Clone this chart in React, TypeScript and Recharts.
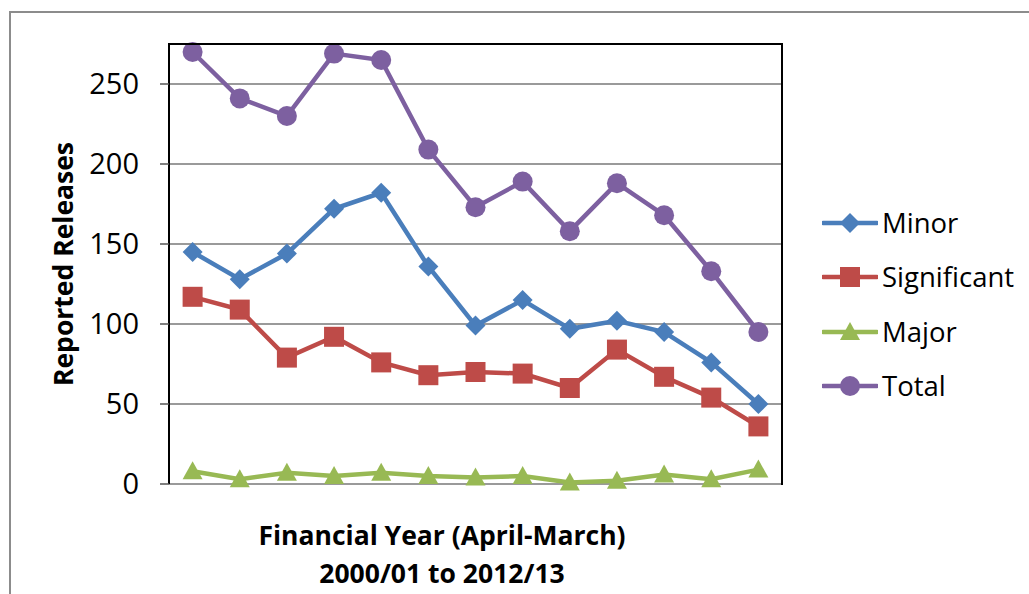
import React from 'react';
import { LineChart, Line, XAxis, YAxis, CartesianGrid, Label } from 'recharts';

const years = [
  '2000/01', '2001/02', '2002/03', '2003/04', '2004/05', '2005/06', '2006/07',
  '2007/08', '2008/09', '2009/10', '2010/11', '2011/12', '2012/13',
];
const minor = [145, 128, 144, 172, 182, 136, 99, 115, 97, 102, 95, 76, 50];
const significant = [117, 109, 79, 92, 76, 68, 70, 69, 60, 84, 67, 54, 36];
const major = [8, 3, 7, 5, 7, 5, 4, 5, 1, 2, 6, 3, 9];
const total = [270, 241, 230, 269, 265, 209, 173, 189, 158, 188, 168, 133, 95];
const yTicks = [0, 50, 100, 150, 200, 250];

const data = years.map((year, i) => ({
  year,
  Minor: minor[i],
  Significant: significant[i],
  Major: major[i],
  Total: total[i],
}));

const series = [
  { key: 'Minor', color: '#4A7EBB', shape: 'diamond' },
  { key: 'Significant', color: '#BE4B48', shape: 'square' },
  { key: 'Major', color: '#98B954', shape: 'triangle' },
  { key: 'Total', color: '#7D60A0', shape: 'circle' },
];

const FONT = '"Open Sans", sans-serif';

const markerShape = (shape: string, cx: number, cy: number, color: string, key?: any) => {
  switch (shape) {
    case 'diamond':
      return <polygon key={key} points={`${cx},${cy - 10} ${cx + 10},${cy} ${cx},${cy + 10} ${cx - 10},${cy}`} fill={color} />;
    case 'square':
      return <rect key={key} x={cx - 10} y={cy - 10} width={20} height={20} fill={color} />;
    case 'triangle':
      return <polygon key={key} points={`${cx},${cy - 10} ${cx + 10},${cy + 8} ${cx - 10},${cy + 8}`} fill={color} />;
    default:
      return <circle key={key} cx={cx} cy={cy} r={10} fill={color} />;
  }
};

const YTitle = (props: any) => {
  const { viewBox } = props;
  const cy = viewBox.y + viewBox.height / 2;
  const x = 73;
  return (
    <text x={x} y={cy} transform={`rotate(-90, ${x}, ${cy})`} textAnchor="middle"
      fontFamily={FONT} fontWeight="bold" fontSize={26.5} fill="#000">
      Reported Releases
    </text>
  );
};

export default function App() {
  return (
    <div style={{ position: 'absolute', left: 0, top: 0, width: 1029, height: 594, overflow: 'hidden', background: '#fff' }}>
      <div style={{ position: 'absolute', left: 9, top: 11, width: 1020, height: 583, borderTop: '2px solid #8c8c8c', borderLeft: '2px solid #8c8c8c', boxSizing: 'border-box' }} />
      <div style={{ position: 'absolute', left: 0, top: 0 }}>
        <LineChart width={1029} height={594} data={data} margin={{ top: 44, right: 247, bottom: 110, left: 109 }}>
          <CartesianGrid vertical={false} stroke="#9a9a9a" strokeWidth={2} />
          <XAxis dataKey="year" height={0} tick={false} tickLine={false}
            axisLine={{ stroke: '#000', strokeWidth: 2 }} padding={{ left: 23.6, right: 23.6 }} />
          <YAxis domain={[0, 275]} ticks={yTicks} width={60} interval={0}
            tick={{ fill: '#000', fontSize: 29, fontFamily: FONT }}
            tickSize={9} tickMargin={21}
            tickLine={{ stroke: '#555', strokeWidth: 1.5 }}
            axisLine={{ stroke: '#000', strokeWidth: 2 }}>
            <Label content={<YTitle />} />
          </YAxis>
          {series.map((s) => (
            <Line key={s.key} dataKey={s.key} stroke={s.color} strokeWidth={4.5}
              isAnimationActive={false}
              dot={(p: any) => markerShape(s.shape, p.cx, p.cy, s.color, `${s.key}-${p.index}`)}
              activeDot={false} />
          ))}
        </LineChart>
      </div>
      {/* plot frame */}
      <div style={{ position: 'absolute', left: 168, top: 43, width: 615, height: 442, border: '2px solid #000', borderLeft: 'none', borderBottom: 'none', boxSizing: 'border-box', pointerEvents: 'none' }} />
      {/* x axis title */}
      <div style={{ position: 'absolute', left: 242, width: 400, top: 516, textAlign: 'center', fontFamily: FONT, fontWeight: 'bold', fontSize: 26.5, lineHeight: '38px', color: '#000' }}>
        <div>Financial Year (April-March)</div>
        <div>2000/01 to 2012/13</div>
      </div>
      <div style={{ position: 'absolute', left: 822, top: 196, fontFamily: FONT, fontSize: 27.5, color: '#000' }}>
        {series.map((s) => (
          <div key={s.key} style={{ display: 'flex', alignItems: 'center', height: 54.3 }}>
            <svg width={56} height={24} style={{ marginRight: 4 }}>
              <line x1={1} y1={12} x2={55} y2={12} stroke={s.color} strokeWidth={4.5} strokeLinecap="round" />
              {markerShape(s.shape, 28, 12, s.color)}
            </svg>
            <span style={{ lineHeight: '30px' }}>{s.key}</span>
          </div>
        ))}
      </div>
    </div>
  );
}
